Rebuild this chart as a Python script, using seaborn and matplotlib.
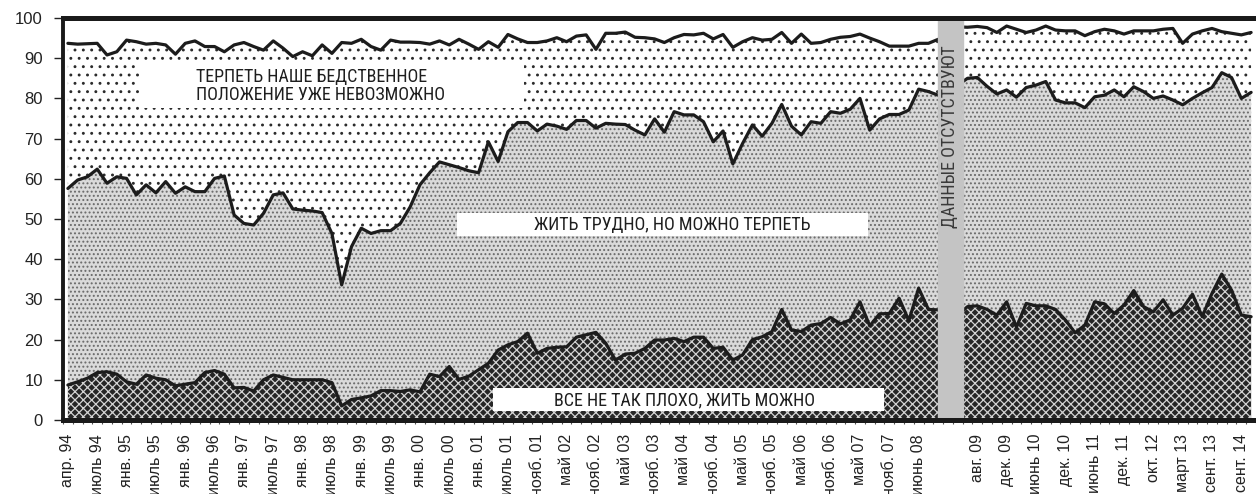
import matplotlib
matplotlib.use("Agg")
import matplotlib.pyplot as plt
import numpy as np
import pandas as pd
import seaborn as sns
from matplotlib import font_manager
from matplotlib.patches import Rectangle

# shares (%) per survey slot; slot 90 has no survey (grey bar)
not_bad = [
    8.7, 9.5, 10.4, 11.8, 12.0, 11.4, 9.5, 8.9, 11.2, 10.4,
    10.0, 8.5, 8.9, 9.3, 11.8, 12.3, 11.4, 8.0, 8.1, 7.2,
    10.0, 11.2, 10.6, 10.0, 10.0, 10.0, 10.0, 9.3, 3.5, 5.1,
    5.5, 6.0, 7.3, 7.3, 7.1, 7.5, 7.0, 11.4, 10.8, 13.3,
    10.1, 10.9, 12.5, 14.1, 17.4, 18.7, 19.5, 21.6, 16.6, 17.8,
    18.1, 18.2, 20.6, 21.2, 21.8, 19.1, 14.9, 16.4, 16.6, 17.8,
    19.9, 19.9, 20.3, 19.5, 20.6, 20.6, 17.8, 18.1, 14.9, 16.2,
    20.0, 20.7, 22.0, 27.5, 22.4, 22.0, 23.6, 24.0, 25.5, 23.9,
    24.9, 29.4, 23.4, 26.4, 26.5, 30.3, 24.7, 32.8, 27.5, 27.4,
    None, 26.1, 28.2, 28.4, 27.5, 26.1, 29.4, 23.1, 29.0, 28.4,
    28.4, 27.5, 24.9, 21.7, 23.6, 29.4, 28.9, 26.5, 28.6, 32.2,
    28.2, 26.9, 29.9, 26.1, 27.8, 31.3, 25.7, 31.5, 36.3, 32.3,
    26.1, 25.7,
]
hard_but_bearable = [
    48.9, 50.2, 50.1, 50.6, 46.9, 49.1, 50.6, 47.1, 47.3, 46.1,
    49.3, 47.9, 49.1, 47.5, 45.0, 47.8, 49.3, 43.0, 40.8, 41.3,
    41.4, 44.8, 45.9, 42.5, 42.2, 42.0, 41.6, 37.1, 30.1, 38.0,
    42.2, 40.4, 39.8, 39.8, 41.8, 45.5, 51.5, 50.1, 53.4, 50.2,
    52.7, 51.1, 49.0, 55.1, 46.9, 53.0, 54.5, 52.4, 55.3, 55.8,
    55.0, 54.1, 53.9, 53.3, 50.8, 54.7, 58.7, 57.1, 55.5, 53.1,
    55.0, 51.7, 56.4, 56.4, 55.3, 53.6, 51.4, 53.8, 48.8, 52.6,
    53.4, 49.9, 51.8, 51.0, 50.7, 48.9, 50.6, 49.8, 51.2, 52.4,
    52.4, 50.6, 48.7, 48.5, 49.5, 45.7, 52.4, 49.5, 54.2, 53.4,
    None, 57.2, 56.8, 56.8, 55.5, 55.0, 52.7, 57.2, 53.7, 54.9,
    55.8, 52.1, 54.0, 57.2, 54.1, 51.0, 51.9, 55.6, 51.8, 50.7,
    53.5, 53.1, 50.7, 53.5, 50.6, 48.7, 55.7, 51.2, 50.1, 52.9,
    53.9, 55.8,
]
unbearable = [
    36.1, 33.8, 33.1, 31.3, 31.9, 31.1, 34.4, 38.1, 35.0, 37.2,
    34.0, 34.6, 35.7, 37.5, 36.1, 32.8, 30.9, 42.3, 45.0, 44.4,
    40.6, 38.3, 36.0, 37.9, 39.4, 38.6, 41.7, 44.8, 60.3, 50.6,
    47.0, 46.5, 44.9, 47.4, 45.1, 41.0, 35.4, 32.0, 30.1, 29.8,
    31.9, 31.5, 30.7, 24.9, 28.4, 24.2, 20.8, 19.9, 22.0, 20.7,
    22.0, 21.8, 21.0, 21.3, 19.6, 22.4, 22.6, 23.0, 23.1, 24.2,
    19.9, 22.3, 18.4, 20.0, 19.9, 22.0, 25.6, 24.0, 29.0, 25.3,
    21.7, 23.9, 20.9, 17.9, 20.6, 25.1, 19.5, 20.1, 18.0, 18.9,
    18.1, 16.0, 22.9, 19.2, 17.0, 17.0, 15.9, 11.4, 12.0, 13.9,
    None, 14.5, 12.7, 12.7, 14.6, 15.3, 15.9, 16.9, 13.7, 13.7,
    13.8, 17.4, 17.9, 17.9, 17.9, 16.2, 16.4, 14.7, 15.6, 13.9,
    15.1, 16.8, 16.6, 17.8, 15.3, 16.0, 15.4, 14.7, 10.2, 11.0,
    15.8, 14.9,
]

tick_labels = [
    "апр. 94", "июль 94", "янв. 95", "июль 95", "янв. 96", "июль 96",
    "янв. 97", "июль 97", "янв. 98", "июль 98", "янв. 99", "июль 99",
    "янв. 00", "июль 00", "янв. 01", "июль 01", "нояб. 01", "май 02",
    "нояб. 02", "май 03", "нояб. 03", "май 04", "нояб. 04", "май 05",
    "нояб. 05", "май 06", "нояб. 06", "май 07", "нояб. 07", "июнь 08",
    "авг. 09", "дек. 09", "июнь 10", "дек. 10", "июнь 11", "дек. 11",
    "окт. 12", "март 13", "сент. 13", "сент. 14",
]
label_slots = list(range(0, 88, 3)) + list(range(93, 121, 3))
gap_slot = 90

sns.set_theme(style="white")
plt.rcParams["font.family"] = ["Liberation Sans", "DejaVu Sans"]
plt.rcParams["hatch.linewidth"] = 0.9

# pick a condensed face for the notes if one is installed
fonts = font_manager.fontManager.ttflist
names = {f.name for f in fonts}
note_font, note_stretch, note_size = ["Liberation Sans", "DejaVu Sans"], "normal", 10.5
for cand in ["Liberation Sans Narrow", "Roboto Condensed", "Open Sans Condensed",
             "Noto Sans Condensed", "Arial Narrow"]:
    if cand in names:
        note_font, note_size = [cand, "DejaVu Sans"], 13
        break
else:
    for f in fonts:
        if f.name in ("Roboto", "Noto Sans", "DejaVu Sans", "Open Sans") and \
                str(f.stretch) in ("condensed", "semi-condensed", "62.5", "75", "87.5"):
            note_font, note_stretch, note_size = [f.name, "DejaVu Sans"], "condensed", 12.5
            break

slots = np.arange(len(not_bad))
low = np.array(not_bad, dtype=float)
mid = low + np.array(hard_but_bearable, dtype=float)
top = mid + np.array(unbearable, dtype=float)

fig = plt.figure(figsize=(12.56, 4.94), dpi=100)
ax = fig.add_axes([63 / 1256, 74 / 494, 1193 / 1256, 402 / 494])

ax.fill_between(slots, 0, low, facecolor="#262626", edgecolor="#d4d4d4",
                hatch="xxxx", linewidth=0, zorder=1)
ax.fill_between(slots, low, mid, facecolor="#dadada", edgecolor="#6a6a6a",
                hatch="....", linewidth=0, zorder=1)
ax.fill_between(slots, mid, top, facecolor="white", edgecolor="#2a2a2a",
                hatch="..", linewidth=0, zorder=1)

frames = []
for band, level in [("low", low), ("mid", mid), ("top", top)]:
    part = pd.DataFrame({"slot": slots, "level": level})
    part["unit"] = band + np.where(slots < gap_slot, "_a", "_b")
    frames.append(part)
lines = pd.concat(frames).dropna()
sns.lineplot(data=lines, x="slot", y="level", units="unit", estimator=None,
             color="#1c1c1c", linewidth=2.3, legend=False, ax=ax, zorder=3)

# white label boxes
for x0, x1, y0, y1 in [(7.3, 46.6, 77.5, 89.3), (39.8, 81.8, 45.8, 51.5),
                       (43.5, 83.5, 2.2, 8.0)]:
    ax.add_patch(Rectangle((x0, y0), x1 - x0, y1 - y0, facecolor="white",
                           edgecolor="none", zorder=2))

ax.axvspan(89.0, 91.5, color="#c4c4c4", zorder=4)
note = dict(fontsize=note_size, family=note_font, fontstretch=note_stretch, zorder=5)
ax.text(90.2, 70.5, "ДАННЫЕ ОТСУТСТВУЮТ", rotation=90, ha="center", va="center",
        color="#3a3a3a", **note)
ax.text(13.15, 85.2, "ТЕРПЕТЬ НАШЕ БЕДСТВЕННОЕ", ha="left", va="center",
        color="#1e1e1e", **note)
ax.text(13.15, 80.9, "ПОЛОЖЕНИЕ УЖЕ НЕВОЗМОЖНО", ha="left", va="center",
        color="#1e1e1e", **note)
ax.text(75.9, 48.4, "ЖИТЬ ТРУДНО, НО МОЖНО ТЕРПЕТЬ", ha="right", va="center",
        color="#1e1e1e", **note)
ax.text(76.4, 5.0, "ВСЕ НЕ ТАК ПЛОХО, ЖИТЬ МОЖНО", ha="right", va="center",
        color="#1e1e1e", **note)

ax.set_xlim(-0.5, 121.1)
ax.set_ylim(0, 100)
ax.set_yticks(range(0, 101, 10))
ax.set_xticks(label_slots)
ax.set_xticklabels(tick_labels, rotation=90, va="top", ha="center")
ax.set_xticks(np.arange(len(not_bad) + 1) - 0.5, minor=True)
ax.tick_params(axis="y", which="major", length=6.5, width=1, color="#222222",
               direction="out", pad=8, labelsize=12, labelcolor="#222222", left=True)
ax.tick_params(axis="x", which="major", length=0, pad=10, labelsize=11.5,
               labelcolor="#222222")
ax.tick_params(axis="x", which="minor", length=3, width=0.8, color="#555555",
               direction="out", bottom=True)
ax.set_xlabel("")
ax.set_ylabel("")

for side, lw in [("left", 2.8), ("bottom", 3.6), ("top", 3.6)]:
    ax.spines[side].set_linewidth(lw)
    ax.spines[side].set_color("#1a1a1a")
    ax.spines[side].set_zorder(6)
ax.spines["right"].set_visible(False)

fig.savefig("out.png", dpi=100)
